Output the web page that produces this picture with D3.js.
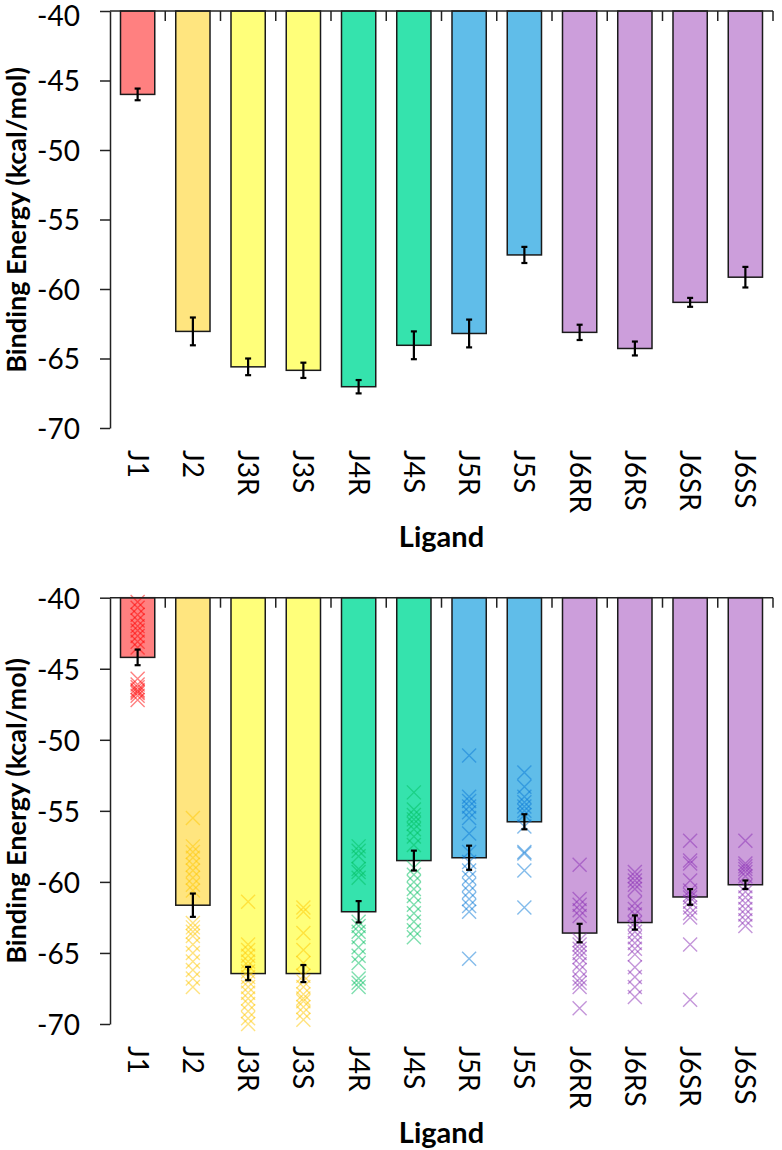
<!DOCTYPE html>
<html>
<head>
<meta charset="utf-8">
<script src="https://cdn.jsdelivr.net/npm/d3@7"></script>
<style>
  html, body { margin: 0; padding: 0; background: #fff; }
  svg { display: block; }
  text { font-family: Lato, "Open Sans", sans-serif; fill: #000; }
</style>
</head>
<body>
<svg id="chart" width="782" height="1150"></svg>
<script>
// ---------- data ----------
const categories = ["J1","J2","J3R","J3S","J4R","J4S","J5R","J5S","J6RR","J6RS","J6SR","J6SS"];
const groups     = ["J1","J2","J3","J3","J4","J4","J5","J5","J6","J6","J6","J6"];
const yTicks = [-40,-45,-50,-55,-60,-65,-70];

const topMeans = [-46.0,-63.05,-65.6,-65.85,-67.03,-64.05,-63.2,-57.55,-63.12,-64.28,-60.96,-59.15];
const topErrs  = [0.42,1.0,0.6,0.55,0.48,1.0,1.0,0.58,0.55,0.5,0.32,0.74];

const bottomMeans = [-44.2,-61.64,-66.45,-66.45,-62.1,-58.5,-58.3,-55.77,-63.6,-62.86,-61.06,-60.2];
const bottomErrs  = [0.55,0.82,0.47,0.6,0.75,0.7,0.85,0.53,0.65,0.5,0.55,0.3];

const ptsJ1   = [-40.3,-40.7,-41.2,-41.6,-42.0,-42.3,-42.7,-43.1,-43.5,-45.7,-46.1,-46.3,-46.5,-46.6,-46.7,-46.9,-47.2];
const ptsJ2   = [-55.5,-57.5,-57.9,-58.3,-58.8,-59.2,-59.7,-60.2,-60.6,-62.9,-63.2,-63.5,-63.8,-64.4,-65.0,-65.6,-66.2,-66.8,-67.4];
const ptsJ3R  = [-61.4,-64.4,-64.8,-65.2,-65.6,-65.9,-66.3,-66.7,-67.0,-67.4,-67.8,-68.2,-68.6,-69.1,-69.6,-70.0];
const ptsJ3S  = [-61.8,-62.1,-63.6,-64.8,-65.7,-66.6,-67.0,-67.4,-67.9,-68.2,-68.4,-68.8,-69.2,-69.7];
const ptsJ4R  = [-57.5,-57.8,-58.2,-59.1,-59.3,-59.7,-62.8,-63.1,-63.5,-63.9,-64.6,-65.2,-65.7,-66.8,-67.1,-67.4];
const ptsJ4S  = [-53.7,-54.9,-55.3,-55.6,-55.9,-56.3,-56.8,-57.4,-59.0,-59.5,-60.0,-60.5,-61.0,-61.6,-62.2,-62.8,-63.4,-63.9];
const ptsJ5R  = [-51.1,-54.0,-54.3,-54.7,-55.1,-55.5,-56.6,-57.9,-58.6,-59.2,-59.7,-60.2,-60.7,-61.2,-61.7,-62.1,-65.4];
const ptsJ5S  = [-52.3,-53.3,-54.0,-54.4,-54.7,-55.0,-55.3,-56.1,-57.9,-58.0,-59.2,-61.8];
const ptsJ6RR = [-58.8,-61.2,-61.6,-62.0,-62.4,-64.1,-64.4,-64.7,-65.0,-65.3,-65.8,-66.2,-66.8,-67.1,-67.4,-68.9];
const ptsJ6RS = [-59.3,-59.6,-59.9,-60.2,-60.5,-61.5,-61.9,-62.3,-62.9,-63.2,-63.5,-63.9,-64.3,-64.7,-65.1,-66.0,-66.7,-67.4,-68.1];
const ptsJ6SR = [-57.1,-58.5,-58.7,-59.9,-60.6,-60.9,-61.1,-61.4,-61.8,-62.2,-62.5,-64.4,-68.3];
const ptsJ6SS = [-57.1,-58.7,-58.9,-59.1,-59.3,-59.6,-60.3,-60.7,-61.1,-61.5,-61.9,-62.3,-62.7,-63.1];
const bottomPoints = [ptsJ1,ptsJ2,ptsJ3R,ptsJ3S,ptsJ4R,ptsJ4S,ptsJ5R,ptsJ5S,ptsJ6RR,ptsJ6RS,ptsJ6SR,ptsJ6SS];

const barColors   = {J1:"#ff8080", J2:"#ffe57f", J3:"#ffff7a", J4:"#35e3ad", J5:"#60bde9", J6:"#cc9edb"};
const pointColors = {J1:"#ff0000", J2:"#ffc800", J3:"#ffc800", J4:"#00c060", J5:"#0a7ad8", J6:"#8a2db5"};

// ---------- drawing ----------
const svg = d3.select("#chart");
const x = d3.scaleBand().domain(categories).range([110, 773]).padding(0);
const barW = x.bandwidth() * 0.62;
const axisColor = "#222";

function panel(yRange, means, errs, points, labelTop, titleY, ligandY, firstLabelDy) {
  const y = d3.scaleLinear().domain([-40, -70]).range(yRange);
  const g = svg.append("g");

  // bars
  g.selectAll("rect.bar").data(categories).enter().append("rect")
    .attr("x", d => x(d) + (x.bandwidth() - barW) / 2)
    .attr("y", y(-40))
    .attr("width", barW)
    .attr("height", (d, i) => y(means[i]) - y(-40))
    .attr("fill", (d, i) => barColors[groups[i]])
    .attr("stroke", "#1a1a1a")
    .attr("stroke-width", 1.5);

  // scatter points (x markers)
  if (points) {
    const s = 7;
    categories.forEach((c, i) => {
      const cx = x(c) + x.bandwidth() / 2;
      g.append("g").selectAll("path").data(points[i]).enter().append("path")
        .attr("d", v => {
          const cy = y(v);
          return `M${cx - s},${cy - s}L${cx + s},${cy + s}M${cx - s},${cy + s}L${cx + s},${cy - s}`;
        })
        .attr("stroke", pointColors[groups[i]])
        .attr("stroke-opacity", 0.5)
        .attr("stroke-width", 1.4)
        .attr("fill", "none");
    });
  }

  // error bars
  categories.forEach((c, i) => {
    const cx = x(c) + x.bandwidth() / 2;
    const y1 = y(means[i] + errs[i]), y2 = y(means[i] - errs[i]);
    const eg = g.append("g").attr("stroke", "#000").attr("stroke-width", 2.2);
    eg.append("line").attr("x1", cx).attr("x2", cx).attr("y1", y1).attr("y2", y2);
    eg.append("line").attr("x1", cx - 3).attr("x2", cx + 3).attr("y1", y1).attr("y2", y1);
    eg.append("line").attr("x1", cx - 3).attr("x2", cx + 3).attr("y1", y2).attr("y2", y2);
  });

  // y axis
  const yAxis = d3.axisLeft(y).tickValues(yTicks).tickSize(10).tickSizeOuter(0)
    .tickPadding(20).tickFormat(d => String(d));
  const ya = g.append("g").attr("transform", "translate(110,0)").call(yAxis);
  ya.select(".domain").attr("stroke", axisColor).attr("stroke-width", 1.5);
  ya.selectAll(".tick line").attr("stroke", axisColor).attr("stroke-width", 1.5);
  ya.selectAll(".tick text").attr("font-size", 28).attr("font-family", "Lato")
    .attr("fill", "#000").attr("dy", (d, i) => i === 0 ? firstLabelDy : "0.37em");

  // top x axis line with boundary ticks
  const y0 = y(-40);
  g.append("line").attr("x1", 110).attr("x2", x.range()[1]).attr("y1", y0).attr("y2", y0)
    .attr("stroke", axisColor).attr("stroke-width", 1.5);
  g.selectAll("line.xt").data(categories).enter().append("line")
    .attr("x1", d => x(d) + x.bandwidth()).attr("x2", d => x(d) + x.bandwidth())
    .attr("y1", y0).attr("y2", y0 + 10)
    .attr("stroke", axisColor).attr("stroke-width", 1.5);

  // category labels (rotated)
  g.selectAll("text.cat").data(categories).enter().append("text")
    .attr("transform", d => `translate(${x(d) + x.bandwidth() / 2},${labelTop}) rotate(90)`)
    .attr("dy", "0.36em")
    .attr("font-size", 28)
    .attr("text-anchor", "start")
    .text(d => d);

  // axis titles
  g.append("text")
    .attr("transform", `translate(26,${titleY}) rotate(-90)`)
    .attr("text-anchor", "middle")
    .attr("font-size", 27)
    .attr("font-weight", "bold")
    .text("Binding Energy (kcal/mol)");
  g.append("text")
    .attr("x", (x.range()[0] + x.range()[1]) / 2)
    .attr("y", ligandY)
    .attr("text-anchor", "middle")
    .attr("font-size", 29)
    .attr("font-weight", "bold")
    .text("Ligand");
}

panel([11, 428], topMeans, topErrs, null, 450, 220, 547, "0.5em");
panel([597.7, 1024], bottomMeans, bottomErrs, bottomPoints, 1046, 811, 1143, "0.37em");
</script>
</body>
</html>
